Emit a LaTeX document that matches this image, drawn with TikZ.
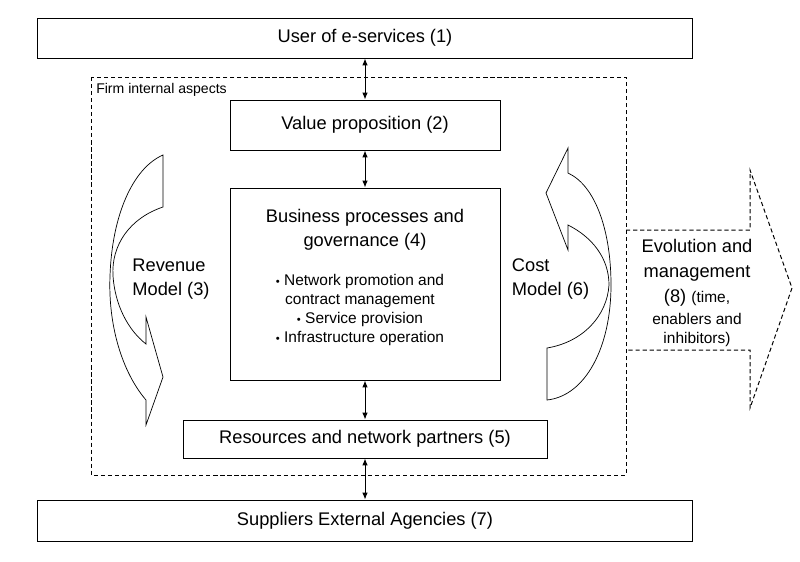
\documentclass[tikz,border=0pt]{standalone}
\usepackage{fontspec}
\setmainfont{Liberation Sans}
\usetikzlibrary{positioning,arrows.meta}

\begin{document}
\begin{tikzpicture}[x=0.025cm,y=-0.025cm,
        box/.style={draw, line width=0.6pt, inner sep=0pt},
        link/.style={{Latex[length=5pt,width=4pt]}-{Latex[length=5pt,width=4pt]}, line width=0.7pt},
        bigtxt/.style={font=\fontsize{13}{17}\selectfont, align=center},
        smalltxt/.style={font=\fontsize{11}{13.5}\selectfont, align=center},
        bent/.style={draw, line width=0.5pt},
        fence/.style={draw, line width=0.7pt, dash pattern=on 3pt off 2pt}]
        \useasboundingbox (0,0) rectangle (800,561);

        \node[box, bigtxt, minimum width=16.35cm, minimum height=1cm] (user) at (365,38) {User of e-services (1)};

        \draw[fence] (91,77) rectangle (626,475);
        \node[anchor=west, inner sep=0pt, font=\fontsize{10}{12}\selectfont] (firm) at (96,90) {Firm internal aspects};

        \node[box, bigtxt, minimum width=6.75cm, minimum height=1.25cm] (value) at (365,125) {Value proposition (2)};

        \node[box, minimum width=6.75cm, minimum height=4.8cm] (biz) at (365,284) {};
        \node[bigtxt, below=0.42cm of biz.north] (biztitle) {Business processes and\\governance (4)};
        \node[smalltxt] (bizlist) at (360,310) {{\footnotesize\textbullet} Network promotion and\\contract management\\{\footnotesize\textbullet} Service provision\\{\footnotesize\textbullet} Infrastructure operation};

        \node[box, bigtxt, minimum width=9.1cm, minimum height=0.95cm] (res) at (365,439) {Resources and network partners (5)};
        \node[box, bigtxt, minimum width=16.35cm, minimum height=1.025cm] (supp) at (365,520.5) {Suppliers External Agencies (7)};

        \draw[link] (user) -- (value);
        \draw[link] (value) -- (biz);
        \draw[link] (biz) -- (res);
        \draw[link] (res) -- (supp);

        % revenue loop, left
        \draw[bent] (163,155) -- (163,207)
            .. controls (130,218) and (111,245) .. (113,276)
            .. controls (115,305) and (128,330) .. (146,344)
            -- (146,317) -- (163,377) -- (146,425) -- (146,400)
            .. controls (122,372) and (108,325) .. (110,276)
            .. controls (112,215) and (133,168) .. (163,155) -- cycle;
        \node[bigtxt, align=left] (rev) at (171,279) {Revenue\\Model (3)};

        % cost loop, right
        \draw[bent] (547,400) -- (547,348)
            .. controls (583,342) and (607,316) .. (609,285)
            .. controls (609,258) and (592,237) .. (568,225)
            -- (568,250) -- (546,193) -- (568,148) -- (568,173)
            .. controls (596,186) and (611,232) .. (611,285)
            .. controls (611,348) and (585,396) .. (547,400) -- cycle;
        \node[bigtxt, align=left, anchor=west] (cost) at (507,279) {Cost\\Model (6)};

        % evolution arrow
        \draw[fence] (626,230) -- (750,230) -- (750,170) -- (792,288) -- (750,408) -- (750,350) -- (626,350);
        \node[bigtxt] (evo) at (697,293) {Evolution and\\[1pt]management\\[1pt](8) {\fontsize{11}{13}\selectfont (time,}\\[-2pt]{\fontsize{11}{13}\selectfont enablers and}\\[-3pt]{\fontsize{11}{13}\selectfont inhibitors)}};
    \end{tikzpicture}
\end{document}
